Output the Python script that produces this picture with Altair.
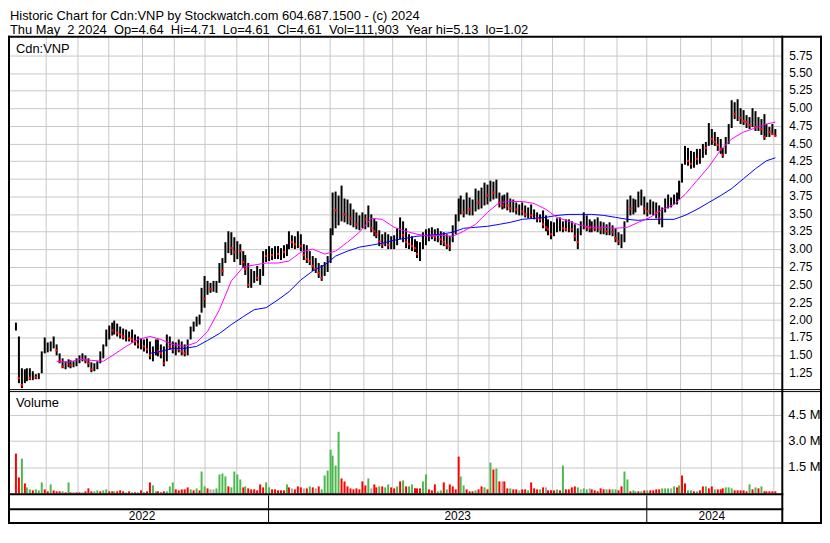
import altair as alt
import pandas as pd

# ---------------- data ----------------
# one entry per two trading days, May 3 2022 .. May 2 2024
hi = [1.96, 1.77, 1.31, 1.30, 1.31, 1.31, 1.28, 1.23, 1.24, 1.55,
      1.75, 1.68, 1.70, 1.77, 1.66, 1.52, 1.45, 1.42, 1.44, 1.43,
      1.42, 1.46, 1.50, 1.53, 1.50, 1.45, 1.40, 1.38, 1.42, 1.55,
      1.66, 1.86, 1.92, 1.96, 1.99, 1.95, 1.90, 1.88, 1.86, 1.84,
      1.86, 1.80, 1.76, 1.74, 1.72, 1.74, 1.70, 1.62, 1.73, 1.72,
      1.66, 1.62, 1.80, 1.76, 1.70, 1.68, 1.72, 1.70, 1.66, 1.72,
      1.90, 1.98, 2.04, 2.08, 2.45, 2.62, 2.55, 2.52, 2.56, 2.55,
      2.80, 2.88, 3.10, 3.25, 3.24, 3.17, 3.12, 3.08, 2.98, 2.92,
      2.80, 2.72, 2.70, 2.76, 2.72, 2.98, 3.00, 3.05, 3.02, 3.05,
      3.04, 3.02, 3.06, 3.08, 3.25, 3.20, 3.18, 3.25, 3.22, 3.08,
      3.06, 2.98, 2.90, 2.88, 2.80, 2.78, 2.82, 2.90, 3.30, 3.80,
      3.82, 3.76, 3.91, 3.72, 3.70, 3.65, 3.56, 3.52, 3.48, 3.52,
      3.50, 3.62, 3.50, 3.44, 3.40, 3.27, 3.22, 3.24, 3.22, 3.18,
      3.20, 3.30, 3.46, 3.40, 3.30, 3.22, 3.18, 3.14, 3.12, 3.10,
      3.24, 3.28, 3.30, 3.32, 3.28, 3.30, 3.26, 3.24, 3.22, 3.18,
      3.34, 3.50, 3.72, 3.76, 3.70, 3.80, 3.74, 3.70, 3.86, 3.84,
      3.88, 3.95, 3.92, 3.97, 3.96, 3.99, 3.80, 3.76, 3.78, 3.80,
      3.72, 3.70, 3.66, 3.64, 3.66, 3.62, 3.60, 3.63, 3.56, 3.53,
      3.50, 3.55, 3.48, 3.42, 3.40, 3.38, 3.44, 3.45, 3.40, 3.42,
      3.43, 3.40, 3.36, 3.30, 3.40, 3.52, 3.48, 3.43, 3.40, 3.42,
      3.45, 3.40, 3.38, 3.36, 3.38, 3.34, 3.30, 3.24, 3.22, 3.40,
      3.70, 3.76, 3.72, 3.70, 3.82, 3.85, 3.75, 3.66, 3.70, 3.68,
      3.66, 3.62, 3.60, 3.72, 3.78, 3.74, 3.78, 3.80, 3.97, 4.22,
      4.47, 4.44, 4.40, 4.38, 4.43, 4.42, 4.50, 4.52, 4.79, 4.70,
      4.66, 4.60, 4.56, 4.44, 4.60, 4.78, 5.12, 5.08, 5.13, 5.00,
      4.98, 4.90, 4.88, 5.00, 4.96, 4.88, 4.84, 4.92, 4.78, 4.74, 4.77, 4.71]

lo = [1.85, 1.10, 1.04, 1.10, 1.13, 1.14, 1.15, 1.16, 1.16, 1.24,
      1.52, 1.54, 1.56, 1.60, 1.50, 1.38, 1.31, 1.30, 1.33, 1.32,
      1.33, 1.35, 1.38, 1.42, 1.39, 1.33, 1.26, 1.28, 1.30, 1.38,
      1.45, 1.62, 1.72, 1.78, 1.80, 1.76, 1.74, 1.72, 1.70, 1.70,
      1.68, 1.64, 1.60, 1.58, 1.56, 1.52, 1.44, 1.41, 1.50, 1.48,
      1.45, 1.34, 1.42, 1.58, 1.52, 1.50, 1.54, 1.50, 1.48, 1.50,
      1.72, 1.84, 1.90, 1.94, 2.10, 2.17, 2.36, 2.38, 2.40, 2.38,
      2.52, 2.62, 2.80, 2.95, 2.92, 2.82, 2.86, 2.78, 2.74, 2.64,
      2.46, 2.45, 2.52, 2.55, 2.50, 2.62, 2.82, 2.84, 2.85, 2.86,
      2.86, 2.85, 2.88, 2.90, 3.00, 3.02, 3.00, 3.02, 2.98, 2.85,
      2.80, 2.78, 2.70, 2.66, 2.60, 2.55, 2.62, 2.68, 2.80, 3.20,
      3.30, 3.34, 3.40, 3.38, 3.36, 3.34, 3.32, 3.28, 3.27, 3.30,
      3.28, 3.32, 3.24, 3.18, 3.16, 3.05, 3.02, 3.04, 3.00, 3.00,
      3.00, 3.06, 3.14, 3.10, 3.02, 3.00, 2.98, 2.96, 2.88, 2.83,
      3.00, 3.06, 3.12, 3.14, 3.12, 3.10, 3.06, 3.04, 3.00, 2.97,
      3.10, 3.22, 3.40, 3.50, 3.46, 3.50, 3.48, 3.48, 3.54, 3.56,
      3.58, 3.62, 3.64, 3.68, 3.70, 3.72, 3.60, 3.56, 3.58, 3.55,
      3.52, 3.52, 3.50, 3.48, 3.48, 3.46, 3.44, 3.44, 3.42, 3.38,
      3.38, 3.30, 3.26, 3.20, 3.15, 3.18, 3.24, 3.26, 3.24, 3.25,
      3.24, 3.24, 3.12, 3.00, 3.20, 3.28, 3.26, 3.24, 3.24, 3.26,
      3.24, 3.22, 3.22, 3.20, 3.20, 3.18, 3.10, 3.06, 3.02, 3.10,
      3.38, 3.48, 3.50, 3.52, 3.60, 3.62, 3.50, 3.47, 3.50, 3.48,
      3.44, 3.36, 3.32, 3.52, 3.58, 3.60, 3.64, 3.64, 3.70, 3.95,
      4.20, 4.18, 4.15, 4.16, 4.20, 4.22, 4.30, 4.34, 4.46, 4.48,
      4.46, 4.40, 4.36, 4.30, 4.36, 4.50, 4.72, 4.84, 4.82, 4.78,
      4.76, 4.72, 4.70, 4.74, 4.68, 4.68, 4.62, 4.55, 4.60, 4.60, 4.62, 4.61]

cl = [1.93, 1.18, 1.07, 1.17, 1.20, 1.18, 1.20, 1.19, 1.21, 1.47,
      1.57, 1.58, 1.62, 1.64, 1.57, 1.41, 1.34, 1.35, 1.37, 1.36,
      1.38, 1.40, 1.46, 1.48, 1.43, 1.38, 1.30, 1.33, 1.36, 1.52,
      1.62, 1.80, 1.90, 1.85, 1.88, 1.82, 1.80, 1.76, 1.78, 1.74,
      1.72, 1.70, 1.66, 1.70, 1.62, 1.58, 1.50, 1.56, 1.68, 1.55,
      1.52, 1.38, 1.74, 1.62, 1.58, 1.60, 1.58, 1.56, 1.52, 1.68,
      1.86, 1.92, 1.98, 2.04, 2.42, 2.30, 2.48, 2.44, 2.46, 2.50,
      2.74, 2.70, 3.00, 3.10, 3.02, 2.96, 3.04, 2.98, 2.82, 2.72,
      2.50, 2.56, 2.62, 2.60, 2.66, 2.92, 2.90, 2.96, 2.92, 3.00,
      2.94, 2.98, 2.96, 3.02, 3.20, 3.10, 3.08, 3.15, 3.05, 2.92,
      2.86, 2.84, 2.76, 2.72, 2.66, 2.60, 2.72, 2.84, 3.24, 3.70,
      3.55, 3.62, 3.72, 3.50, 3.58, 3.44, 3.48, 3.36, 3.40, 3.44,
      3.42, 3.50, 3.30, 3.26, 3.22, 3.12, 3.08, 3.14, 3.06, 3.08,
      3.12, 3.22, 3.36, 3.20, 3.10, 3.08, 3.04, 3.02, 2.94, 2.96,
      3.14, 3.20, 3.24, 3.20, 3.18, 3.22, 3.14, 3.10, 3.06, 3.04,
      3.30, 3.44, 3.66, 3.70, 3.52, 3.72, 3.56, 3.60, 3.78, 3.66,
      3.70, 3.84, 3.76, 3.88, 3.80, 3.90, 3.66, 3.62, 3.70, 3.62,
      3.58, 3.62, 3.56, 3.60, 3.54, 3.50, 3.54, 3.48, 3.50, 3.44,
      3.42, 3.36, 3.32, 3.28, 3.22, 3.26, 3.30, 3.34, 3.30, 3.28,
      3.32, 3.28, 3.18, 3.10, 3.34, 3.40, 3.32, 3.30, 3.34, 3.30,
      3.36, 3.28, 3.32, 3.26, 3.30, 3.24, 3.16, 3.12, 3.16, 3.36,
      3.62, 3.58, 3.60, 3.64, 3.70, 3.76, 3.58, 3.54, 3.60, 3.66,
      3.52, 3.44, 3.50, 3.60, 3.66, 3.70, 3.70, 3.74, 3.92, 4.18,
      4.36, 4.26, 4.22, 4.30, 4.28, 4.36, 4.46, 4.44, 4.70, 4.56,
      4.52, 4.48, 4.42, 4.34, 4.52, 4.74, 4.95, 4.92, 4.98, 4.86,
      4.82, 4.80, 4.76, 4.90, 4.74, 4.80, 4.70, 4.60, 4.70, 4.66, 4.64, 4.61]

# volume in millions of shares
vol_m = [2.25, 0.90, 2.00, 0.58, 0.33, 0.20, 0.16, 0.22, 0.15, 0.65,
         0.25, 0.14, 0.52, 0.17, 0.12, 0.10, 0.14, 0.08, 0.62, 0.06,
         0.05, 0.04, 0.06, 0.08, 0.10, 0.30, 0.12, 0.10, 0.15, 0.10,
         0.18, 0.22, 0.12, 0.10, 0.14, 0.12, 0.16, 0.10, 0.08, 0.10,
         0.06, 0.08, 0.06, 0.18, 0.08, 0.10, 0.62, 0.46, 0.12, 0.10,
         0.08, 0.14, 0.12, 0.42, 0.62, 0.25, 0.15, 0.20, 0.25, 0.32,
         0.25, 0.18, 0.30, 0.15, 1.23, 0.42, 0.27, 0.23, 0.23, 0.27,
         1.10, 1.15, 0.96, 0.42, 0.33, 1.27, 1.10, 0.81, 0.33, 0.38,
         0.27, 0.23, 0.23, 0.15, 0.52, 0.33, 0.65, 0.33, 0.23, 0.20,
         0.19, 0.15, 0.19, 0.52, 0.33, 0.27, 0.23, 0.42, 0.33, 0.31,
         0.31, 0.38, 0.33, 0.31, 0.38, 0.25, 1.00, 1.29, 2.50, 2.15,
         1.62, 3.50, 0.85, 0.71, 0.42, 0.30, 0.25, 0.27, 0.25, 0.71,
         0.46, 0.87, 0.31, 0.52, 0.33, 0.38, 0.42, 0.33, 0.50, 0.35,
         0.27, 0.40, 0.71, 0.75, 0.42, 0.38, 0.52, 0.27, 0.27, 0.27,
         0.71, 1.10, 0.23, 0.15, 0.52, 0.12, 0.15, 0.65, 0.23, 0.52,
         0.38, 0.23, 2.08, 0.94, 0.46, 0.23, 0.12, 0.10, 0.15, 0.23,
         0.38, 0.33, 0.23, 1.77, 1.38, 1.42, 0.71, 0.71, 0.69, 0.27,
         0.27, 0.25, 0.23, 0.19, 0.23, 0.23, 0.17, 0.62, 0.27, 0.20,
         0.23, 0.33, 0.33, 0.19, 0.17, 0.17, 0.23, 0.17, 1.58, 0.23,
         0.23, 0.33, 0.42, 0.33, 0.23, 0.31, 0.23, 0.29, 0.23, 0.15,
         0.12, 0.31, 0.23, 0.23, 0.20, 0.20, 0.23, 0.15, 0.37, 1.27,
         0.81, 0.12, 0.15, 0.10, 0.12, 0.10, 0.17, 0.15, 0.17, 0.15,
         0.23, 0.23, 0.30, 0.31, 0.31, 0.31, 0.37, 0.33, 0.46, 1.04,
         0.58, 0.17, 0.15, 0.12, 0.10, 0.15, 0.38, 0.42, 0.30, 0.38,
         0.23, 0.23, 0.23, 0.27, 0.35, 0.35, 0.30, 0.19, 0.19, 0.15,
         0.19, 0.12, 0.52, 0.23, 0.33, 0.27, 0.40, 0.12, 0.12, 0.12, 0.12, 0.11]

# direction of each volume bar: u = up (green), d = down (red), n = unchanged (grey)
vol_dir = ("dduduuduuu" "ddudddudud" "udduddduud" "uuddudddud" "udududduud"
           "dduuuddddd" "ududuudnnu" "uuuduuuudu" "dddddduudd" "dddudndddn"
           "dudnduuuuu" "uudddddddd" "dundduduud" "dududuuddd" "uuddduudud"
           "ddduudddud" "dudududndd" "uddndduddd" "udndddudud" "dddunuundd"
           "ddduduuddu" "uduudududd" "dduuunudud" "duududdudd" "uddduuuddd"
           "ddudududdddd")

# moving averages (magenta = short, blue = long), sampled every 4th bar
ma_fast = [1.41, 1.40, 1.44, 1.43, 1.42, 1.51, 1.63, 1.73, 1.77, 1.72,
           1.66, 1.63, 1.68, 1.84, 2.15, 2.56, 2.75, 2.78, 2.80, 2.81,
           2.84, 2.96, 3.01, 2.94, 2.97, 3.10, 3.24, 3.44, 3.42, 3.32,
           3.26, 3.21, 3.19, 3.20, 3.18, 3.26, 3.36, 3.53, 3.66, 3.68,
           3.68, 3.65, 3.56, 3.46, 3.40, 3.34, 3.32, 3.31, 3.30, 3.31,
           3.38, 3.46, 3.56, 3.63, 3.78, 3.98, 4.17, 4.41, 4.56, 4.66,
           4.72, 4.77, 4.81]
ma_slow = [1.53, 1.55, 1.59, 1.60, 1.63, 1.71, 1.81, 1.94, 2.05, 2.14,
           2.18, 2.28, 2.40, 2.57, 2.69, 2.78, 2.90, 2.98, 3.03, 3.06,
           3.09, 3.13, 3.16, 3.18, 3.20, 3.21, 3.24, 3.30, 3.32, 3.33,
           3.35, 3.39, 3.42, 3.44, 3.46, 3.48, 3.49, 3.49, 3.50, 3.48,
           3.45, 3.42, 3.41, 3.42, 3.42, 3.42, 3.48, 3.57, 3.67, 3.76,
           3.86, 4.00, 4.15, 4.25, 4.30]

price_ticks = [1.25, 1.50, 1.75, 2.00, 2.25, 2.50, 2.75, 3.00, 3.25, 3.50,
               3.75, 4.00, 4.25, 4.50, 4.75, 5.00, 5.25, 5.50, 5.75]
price_labels = ["%.2f" % p for p in price_ticks]
vol_ticks = [1.5, 3.0, 4.5]
vol_labels = ["1.5 M", "3.0 M", "4.5 M"]

NB = "\u00a0"
header1 = "Historic Chart for Cdn:VNP by Stockwatch.com 604.687.1500 - (c) 2024"
header2 = ("Thu May " + NB + "2 2024 " + NB + "Op=4.64 " + NB + "Hi=4.71 " + NB +
           "Lo=4.61 " + NB + "Cl=4.61 " + NB + "Vol=111,903 " + NB +
           "Year hi=5.13 " + NB + "lo=1.02")

# ---------------- derived tables ----------------
dates = pd.bdate_range("2022-05-03", "2024-05-02")
n_days = len(dates)
n_bars = len(hi)
bar_x = [2 * i for i in range(n_bars)]

bars = pd.DataFrame({"x": bar_x, "hi": hi, "lo": lo, "cl": cl})
bars["down"] = bars["cl"] < bars["cl"].shift(1)
closes_down = bars[bars["down"]]

vol = pd.DataFrame({"x": bar_x, "v": vol_m[:n_bars], "d": list(vol_dir[:n_bars])})

fast_bars = list(range(14, n_bars - 1, 4)) + [n_bars - 1]
slow_bars = list(range(46, n_bars - 1, 4)) + [n_bars - 1]
m = min(len(fast_bars), len(ma_fast))
fast = pd.DataFrame({"x": [2 * b for b in fast_bars[:m]], "v": ma_fast[:m]})
m = min(len(slow_bars), len(ma_slow))
slow = pd.DataFrame({"x": [2 * b for b in slow_bars[:m]], "v": ma_slow[:m]})

month_edges, year_edges = [], []
for k in range(1, n_days):
    if dates[k].month != dates[k - 1].month:
        month_edges.append(k - 0.5)
    if dates[k].year != dates[k - 1].year:
        year_edges.append(k - 0.5)
bounds = [-0.5] + year_edges + [n_days - 0.5]
years = pd.DataFrame({
    "x": [(bounds[j] + bounds[j + 1]) / 2 for j in range(len(bounds) - 1)],
    "t": [str(y) for y in range(dates[0].year, dates[-1].year + 1)],
})
months = pd.DataFrame({"m": month_edges})
yedges = pd.DataFrame({"m": year_edges})
pgrid = pd.DataFrame({"p": price_ticks, "t": price_labels})
vgrid = pd.DataFrame({"p": vol_ticks, "t": vol_labels})
one = pd.DataFrame({"k": [0]})

# ---------------- layout ----------------
PW, PH = 777, 459          # plot view: price (0..354) + volume (357..459)
P_BOT, V_TOP = 354, 357
FONT = "Liberation Sans"
GRID = "#C8C8C8"
GREEN, RED, GRAY = "#4DB84D", "#FF0000", "#A8A8A8"

XS = alt.Scale(domain=[-0.5, n_days - 0.5], range=[0, PW], round=True, nice=False, zero=False)
PY = alt.Scale(domain=[1.02, 6.0], range=[P_BOT, 0], round=True, nice=False, zero=False)
VY = alt.Scale(domain=[0, 5.8], range=[PH, V_TOP], round=True, nice=False, zero=False)


def X(f):
    return alt.X(f, scale=XS, axis=None)


layers = []
# grid
layers.append(alt.Chart(months).mark_rule(color=GRID, strokeWidth=1, xOffset=0.5).encode(
    x=X("m:Q"), y=alt.value(0), y2=alt.value(P_BOT)))
layers.append(alt.Chart(months).mark_rule(color=GRID, strokeWidth=1, xOffset=0.5).encode(
    x=X("m:Q"), y=alt.value(V_TOP), y2=alt.value(PH)))
layers.append(alt.Chart(pgrid).mark_rule(color=GRID, strokeWidth=1, yOffset=0.5).encode(
    y=alt.Y("p:Q", scale=PY, axis=None), x=alt.value(0), x2=alt.value(PW)))
layers.append(alt.Chart(vgrid).mark_rule(color=GRID, strokeWidth=1, yOffset=0.5).encode(
    y=alt.Y("p:Q", scale=VY, axis=None), x=alt.value(0), x2=alt.value(PW)))

# volume
layers.append(alt.Chart(vol).mark_bar(size=2).encode(
    x=X("x:Q"),
    y=alt.Y("v:Q", scale=VY, axis=None),
    color=alt.Color("d:N", scale=alt.Scale(domain=["u", "d", "n"], range=[GREEN, RED, GRAY]), legend=None)))

# price bars, closes, averages
layers.append(alt.Chart(bars).mark_rule(color="black", strokeWidth=2).encode(
    x=X("x:Q"), y=alt.Y("lo:Q", scale=PY, axis=None), y2="hi:Q"))
layers.append(alt.Chart(closes_down).mark_square(color=RED, size=5, opacity=1).encode(
    x=X("x:Q"), y=alt.Y("cl:Q", scale=PY, axis=None)))
layers.append(alt.Chart(slow).mark_line(color="#0000FF", strokeWidth=1).encode(
    x=X("x:Q"), y=alt.Y("v:Q", scale=PY, axis=None)))
layers.append(alt.Chart(fast).mark_line(color="#FF00FF", strokeWidth=1).encode(
    x=X("x:Q"), y=alt.Y("v:Q", scale=PY, axis=None)))


# frame
def hline(y, x1, x2, w):
    return alt.Chart(one).mark_rule(color="black", strokeWidth=w).encode(
        x=alt.value(x1), x2=alt.value(x2), y=alt.value(y))


def vline(x, y1, y2, w):
    return alt.Chart(one).mark_rule(color="black", strokeWidth=w).encode(
        x=alt.value(x), y=alt.value(y1), y2=alt.value(y2))


R_OUT = PW + 40
layers += [
    hline(-1, -2, R_OUT + 1, 2),
    hline(P_BOT + 0.5, -2, R_OUT + 1, 1),
    hline(V_TOP - 0.5, -2, R_OUT + 1, 1),
    hline(PH + 1, -2, PW + 2, 2),
    hline(PH + 16, -2, PW + 2, 2),
    hline(PH + 30, -2, R_OUT + 1, 2),
    vline(-1, -2, PH + 31, 2),
    vline(PW + 1, -2, PH + 31, 2),
    vline(R_OUT, -2, PH + 31, 2),
]
layers.append(alt.Chart(yedges).mark_rule(color="black", strokeWidth=1, xOffset=0.5).encode(
    x=X("m:Q"), y=alt.value(PH + 2), y2=alt.value(PH + 29)))

# texts
layers.append(alt.Chart(pgrid).mark_text(align="left", baseline="middle", font=FONT, fontSize=12, color="black").encode(
    y=alt.Y("p:Q", scale=PY, axis=None), x=alt.value(PW + 8), text="t:N"))
layers.append(alt.Chart(vgrid).mark_text(align="left", baseline="middle", font=FONT, fontSize=13, color="black").encode(
    y=alt.Y("p:Q", scale=VY, axis=None), x=alt.value(PW + 7), text="t:N"))
layers.append(alt.Chart(years).mark_text(align="center", baseline="alphabetic", font=FONT, fontSize=12, color="black").encode(
    x=X("x:Q"), y=alt.value(PH + 27), text="t:N"))
for txt, xx, yy in [("Cdn:VNP", 6, 15), ("Volume", 6, V_TOP + 15),
                    (header1, 0, -18), (header2, 0, -4)]:
    layers.append(alt.Chart(one).mark_text(align="left", baseline="alphabetic", font=FONT, fontSize=13, color="black").encode(
        x=alt.value(xx), y=alt.value(yy), text=alt.value(txt)))

chart = alt.layer(*layers).resolve_scale(y="independent").properties(
    width=PW, height=PH,
    padding={"left": 2, "top": 28, "right": 41, "bottom": 32},
    autosize=alt.AutoSizeParams(type="none"),
    background="white",
).configure_view(strokeWidth=0)

chart.save("out.html", embed_options={"renderer": "svg", "actions": False})
